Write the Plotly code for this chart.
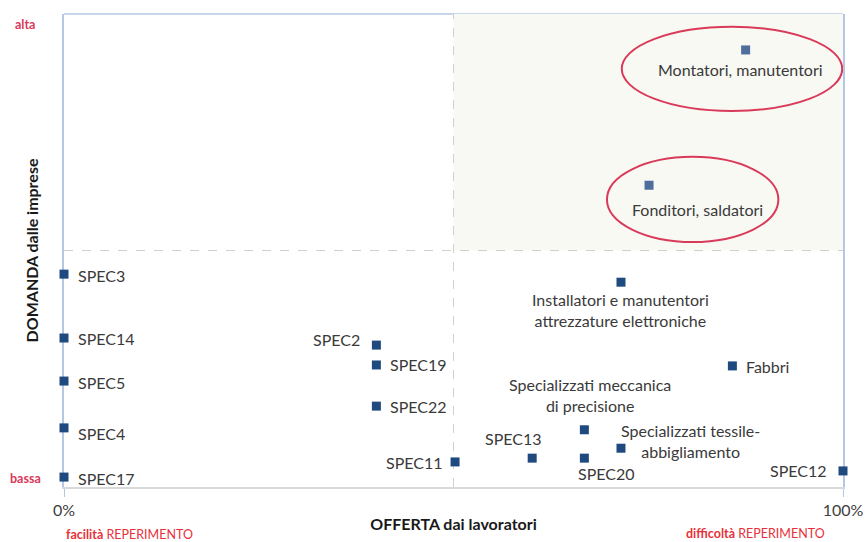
import plotly.graph_objects as go

# posizionamento: offerta (x, % difficoltà) e domanda (y)
labels = ["Montatori, manutentori", "Fonditori, saldatori",
          "Installatori e manutentori<br>attrezzature elettroniche", "Fabbri",
          "Specializzati meccanica<br>di precisione", "Specializzati tessile-<br>abbigliamento",
          "SPEC20", "SPEC13", "SPEC11", "SPEC12", "SPEC2", "SPEC19", "SPEC22",
          "SPEC3", "SPEC14", "SPEC5", "SPEC4", "SPEC17"]
offerta = [87.5, 75.1, 71.5, 85.8, 66.8, 71.5, 66.8, 60.1, 50.2, 100.0,
           40.1, 40.1, 40.1, 0, 0, 0, 0, 0]
domanda = [92.4, 63.8, 43.3, 25.6, 12.1, 8.2, 6.1, 6.1, 5.3, 3.4,
           30.0, 25.8, 17.1, 45.0, 31.5, 22.4, 12.5, 2.1]
evidenziati = [True, True] + [False] * 16

FONT = "Lato, Noto Sans, sans-serif"
BLU = "#1F4A7F"
BLU_CHIARO = "#4E6E9B"
ROSSO = "#D93A5A"
AZZURRO = "#B4C7E7"

# posizione delle etichette: (xanchor, xshift, yshift)
pos_etichette = [
    ("center", -5, -20), ("center", 48, -24), ("center", 0, -28), ("left", 12, -1),
    ("center", 6, 35), ("center", 70, 7), ("center", 22, -15), ("center", -19, 20),
    ("right", -10, -1), ("right", -14, 0), ("right", -14, 6), ("left", 12, 0),
    ("left", 12, 0), ("left", 12, -1), ("left", 12, 0), ("left", 12, -1),
    ("left", 12, -6), ("left", 12, -1),
]

fig = go.Figure()

# quadrante in alto a destra
fig.add_shape(type="rect", x0=50, x1=100, y0=50, y1=100, fillcolor="#F9F9F4",
              line_width=0, layer="below")
fig.add_shape(type="line", x0=50, x1=50, y0=0, y1=100, layer="below",
              line=dict(color="#D0D0D0", width=1, dash="dash"))
fig.add_shape(type="line", x0=0, x1=100, y0=50, y1=50, layer="below",
              line=dict(color="#D0D0D0", width=1, dash="dash"))
fig.add_shape(type="line", xref="paper", yref="paper", x0=0, x1=1, y0=1, y1=1,
              layer="below", line=dict(color=AZZURRO, width=1.5))

# ellissi di evidenziazione
fig.add_shape(type="circle", x0=71.6, x1=99.9, y0=79.5, y1=97.3,
              line=dict(color=ROSSO, width=2))
fig.add_shape(type="circle", x0=69.7, x1=91.7, y0=51.8, y1=69.8,
              line=dict(color=ROSSO, width=2))

fig.add_trace(go.Scatter(
    x=offerta, y=domanda, mode="markers",
    marker=dict(symbol="square", size=9,
                color=[BLU_CHIARO if e else BLU for e in evidenziati]),
    hovertext=labels, hoverinfo="text", cliponaxis=False, showlegend=False,
))

for lab, xv, yv, (xa, dx, dy) in zip(labels, offerta, domanda, pos_etichette):
    fig.add_annotation(x=xv, y=yv, text=lab, showarrow=False, xanchor=xa,
                       yanchor="middle", xshift=dx, yshift=dy, align="center",
                       font=dict(family=FONT, size=16, color="#3A3A3A"))

# etichette qualitative degli assi
fig.add_annotation(xref="paper", yref="paper", x=-0.05, y=0.977, text="<b>alta</b>",
                   showarrow=False, xanchor="center", yanchor="middle",
                   font=dict(family=FONT, size=12.5, color=ROSSO))
fig.add_annotation(xref="paper", yref="paper", x=-0.049, y=0.019, text="<b>bassa</b>",
                   showarrow=False, xanchor="center", yanchor="middle",
                   font=dict(family=FONT, size=12.5, color=ROSSO))
fig.add_annotation(xref="paper", yref="paper", x=0.0, y=-0.1,
                   text="<b>facilità</b> REPERIMENTO", showarrow=False, xanchor="left",
                   yanchor="middle", font=dict(family=FONT, size=12.5, color="#E8303A"))
fig.add_annotation(xref="paper", yref="paper", x=0.98, y=-0.098,
                   text="<b>difficoltà</b> REPERIMENTO", showarrow=False, xanchor="right",
                   yanchor="middle", font=dict(family=FONT, size=12.5, color="#E8303A"))

fig.update_layout(
    width=867, height=542,
    margin=dict(l=64, r=24, t=14, b=55, autoexpand=False),
    plot_bgcolor="white", paper_bgcolor="white",
    font=dict(family=FONT, color="#3A3A3A"),
    xaxis=dict(range=[0, 100], tickvals=[0, 100], ticktext=["0%", "100%"],
               showgrid=False, zeroline=False, showline=True, linecolor="#D9D9D9",
               linewidth=1.5, ticks="outside", ticklen=8, tickcolor=AZZURRO,
               layer="below traces", automargin=False,
               tickfont=dict(size=16, color="#404040"),
               title=dict(text="<b>OFFERTA dai lavoratori</b>", standoff=1,
                          font=dict(size=16, color="#1A1A1A"))),
    yaxis=dict(range=[0, 100], showticklabels=False, showgrid=False, zeroline=False,
               showline=True, mirror=True, linecolor=AZZURRO, linewidth=1.5,
               layer="below traces", automargin=False,
               title=dict(text="<b>DOMANDA dalle imprese</b>", standoff=20,
                          font=dict(size=16, color="#1A1A1A"))),
)

# la pagina ha un margine di 8px di default: lo azzero
fig.write_html("out.html", config={"displayModeBar": False},
               post_script="document.body.style.margin='0';")
